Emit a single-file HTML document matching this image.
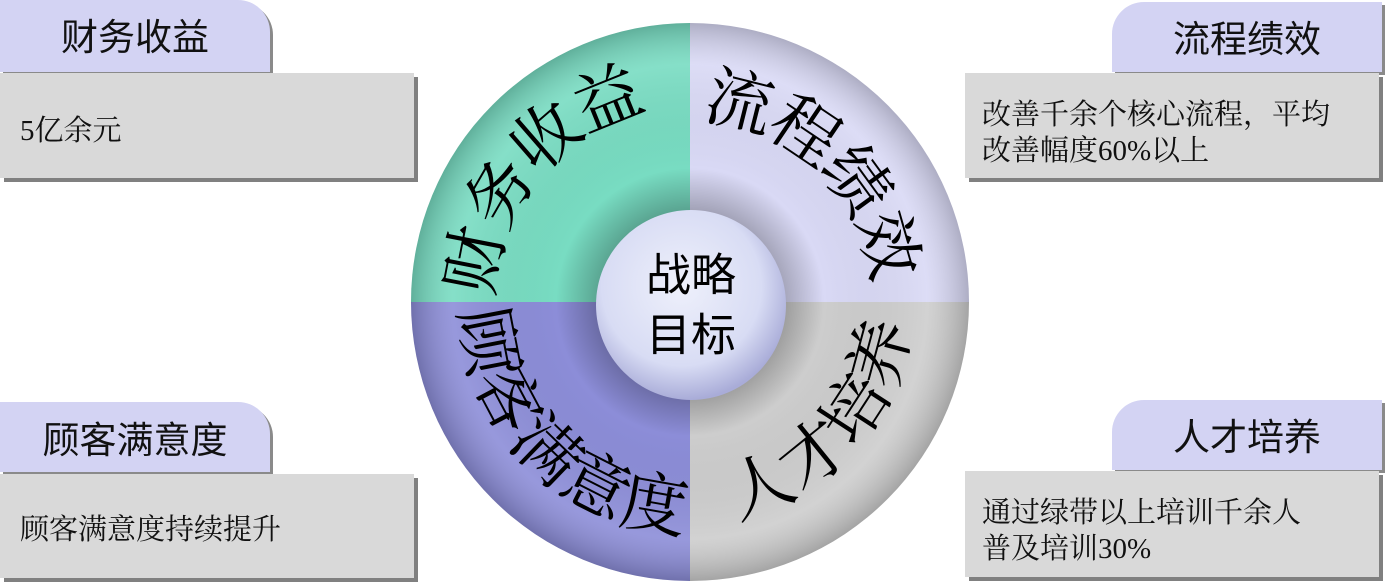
<!DOCTYPE html>
<html><head><meta charset="utf-8"><style>
body{margin:0;width:1385px;height:585px;background:#fff;overflow:hidden;position:relative;font-family:"Liberation Sans","Noto Sans CJK SC",sans-serif}
.tab{position:absolute;background:#d3d3f3;box-shadow:3px 3px 0 #8a8a8a;font-size:37px;text-align:center;line-height:76px;color:#111}
.bd{position:absolute;background:#d9d9d9;box-shadow:4px 4px 0 #808080;font-family:"Liberation Serif","Noto Serif CJK SC",serif;font-size:29px;color:#111;line-height:36px}
</style></head><body>
<div class="tab" style="left:0;top:0;width:270px;height:72px;border-radius:0 32px 0 0;">财务收益</div>
<div class="bd" style="left:0;top:73px;width:414px;height:105px;"><div style="position:absolute;left:20px;top:40px">5亿余元</div></div>
<div class="tab" style="left:0;top:402px;width:270px;height:70px;border-radius:0 32px 0 0;line-height:78px">顾客满意度</div>
<div class="bd" style="left:0;top:474px;width:414px;height:104px;"><div style="position:absolute;left:20px;top:38px">顾客满意度持续提升</div></div>
<div class="tab" style="left:1112px;top:2px;width:270px;height:70px;border-radius:32px 0 0 0;">流程绩效</div>
<div class="bd" style="left:965px;top:73px;width:414px;height:105px;"><div style="position:absolute;left:17px;top:24px">改善千余个核心流程，平均<br>改善幅度60%以上</div></div>
<div class="tab" style="left:1112px;top:400px;width:270px;height:70px;border-radius:32px 0 0 0;">人才培养</div>
<div class="bd" style="left:965px;top:471px;width:414px;height:106px;"><div style="position:absolute;left:17px;top:24px">通过绿带以上培训千余人<br>普及培训30%</div></div>
<svg width="1385" height="585" style="position:absolute;left:0;top:0">
<defs>
<radialGradient id="sh" cx="690" cy="302" r="279" gradientUnits="userSpaceOnUse">
<stop offset="0.3" stop-color="#000" stop-opacity="0.3"/><stop offset="0.48" stop-color="#000" stop-opacity="0"/><stop offset="0.85" stop-color="#fff" stop-opacity="0.1"/><stop offset="1" stop-color="#000" stop-opacity="0.2"/></radialGradient>
<radialGradient id="ball" cx="0.45" cy="0.4" r="0.6"><stop offset="0" stop-color="#eef0fb"/><stop offset="0.7" stop-color="#d8dcf4"/><stop offset="1" stop-color="#a9acd8"/></radialGradient>
</defs>
<path d="M690,302 L411,302 A279,279 0 0 1 690,23 Z" fill="#78dcc2"/>
<path d="M690,302 L690,23 A279,279 0 0 1 969,302 Z" fill="#d9d9f5"/>
<path d="M690,302 L969,302 A279,279 0 0 1 690,581 Z" fill="#cdcdcd"/>
<path d="M690,302 L690,581 A279,279 0 0 1 411,302 Z" fill="#8c8dd8"/>
<circle cx="690" cy="302" r="279" fill="url(#sh)"/>
<circle cx="691" cy="305" r="95" fill="url(#ball)"/>
<g font-family="Liberation Serif,Noto Serif CJK SC,serif" font-size="67" text-anchor="middle" dominant-baseline="central" fill="#000" id="t"></g>
<text x="691" y="275" font-size="45" text-anchor="middle" dominant-baseline="central" font-family="Liberation Sans,Noto Sans CJK SC,sans-serif">战略</text>
<text x="691" y="335" font-size="45" text-anchor="middle" dominant-baseline="central" font-family="Liberation Sans,Noto Sans CJK SC,sans-serif">目标</text>
</svg>
<script>
var g=document.getElementById('t'),cx=690,cy=302;
function put(s,angs,r,top){for(var i=0;i<s.length;i++){var a=angs[i]*Math.PI/180,x=cx+r*Math.cos(a),y=cy+r*Math.sin(a);var t=document.createElementNS('http://www.w3.org/2000/svg','text');t.setAttribute('x',x);t.setAttribute('y',y);t.setAttribute('transform','rotate('+(top?angs[i]+90:angs[i]-90)+' '+x+' '+y+')');t.textContent=s[i];g.appendChild(t);}}
put('财务收益',[191,210,229,248],218,1);
put('流程绩效',[284,304,324,344],205,1);
put('顾客满意度',[169,152,134,117,100],207,0);
put('人才培养',[69,51,33,15],198,0);
</script>
</body></html>
